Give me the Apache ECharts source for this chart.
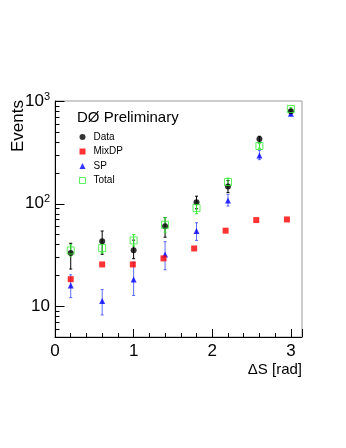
<!DOCTYPE html>
<html>
<head>
<meta charset="utf-8">
<script src="https://cdn.jsdelivr.net/npm/echarts@6/dist/echarts.min.js"></script>
<style>
html,body{margin:0;padding:0;background:#fff;}
#chart{width:346px;height:448px;}
</style>
</head>
<body>
<div id="chart"></div>
<script>
//------------------- data --------------
var dataX   = [0.2, 0.6, 1.0, 1.4, 1.8, 2.2, 2.6, 3.0];
var dataY   = [33, 43, 35, 60, 103, 147, 425, 794];
var dataLo  = [23, 32, 29, 47, 89, 128, 395, 766];
var dataHi  = [41, 54, 44, 73, 118, 168, 453, 822];

var mixX    = [0.2, 0.6, 0.99, 1.38, 1.77, 2.17, 2.56, 2.95];
var mixY    = [18.3, 25.5, 25.5, 29.2, 36.5, 54.4, 69, 70];

var spX     = [0.2, 0.6, 1.0, 1.4, 1.8, 2.2, 2.6, 3.0];
var spY     = [15.9, 11.2, 18.2, 31.9, 54, 107, 295, 753];
var spLo    = [12.1, 8.2, 12.7, 22.6, 43.7, 94.6, 268, 725];
var spHi    = [20.2, 14.5, 26.8, 42.5, 65, 123, 330, 781];

var totX    = [0.2, 0.6, 1.0, 1.4, 1.8, 2.2, 2.6, 3.0];
var totY    = [34.9, 36.8, 43.7, 62.2, 90.3, 162, 364, 836];
var totLo   = [30.8, 33, 38.5, 52.7, 79.6, 148, 346, 810];
var totHi   = [39.7, 41, 50, 72.8, 102, 177, 384, 862];

var yMajor  = [10, 100, 1000];
var yMinor  = [6, 7, 8, 9, 20, 30, 40, 50, 60, 70, 80, 90, 200, 300, 400, 500, 600, 700, 800, 900];

//------------------- helpers --------------
function pts(xs, ys){
  var out = [];
  for (var i = 0; i < xs.length; i++) out.push([xs[i], ys[i]]);
  return out;
}
function bars(xs, lo, hi){
  var out = [];
  for (var i = 0; i < xs.length; i++) out.push([xs[i], lo[i], hi[i]]);
  return out;
}
function errSeries(d, color){
  return {
    type: 'custom',
    silent: true,
    z: 2,
    data: d,
    encode: {x: 0, y: [1, 2]},
    renderItem: function(params, api){
      var a = api.coord([api.value(0), api.value(1)]);
      var b = api.coord([api.value(0), api.value(2)]);
      var st = {stroke: color, lineWidth: 1};
      return {
        type: 'group',
        children: [
          {type: 'line', shape: {x1: a[0], y1: a[1], x2: b[0], y2: b[1]}, style: st},
          {type: 'line', shape: {x1: a[0]-1.5, y1: a[1], x2: a[0]+1.5, y2: a[1]}, style: st},
          {type: 'line', shape: {x1: b[0]-1.5, y1: b[1], x2: b[0]+1.5, y2: b[1]}, style: st}
        ]
      };
    }
  };
}
// y ticks of the log axis, placed through the axis scale
function tickSeries(vals, len){
  var d = [];
  for (var i = 0; i < vals.length; i++) d.push([0, vals[i]]);
  return {
    type: 'custom',
    silent: true,
    z: 6,
    data: d,
    encode: {x: 0, y: 1},
    renderItem: function(params, api){
      var p = api.coord([api.value(0), api.value(1)]);
      var x0 = Math.round(p[0]) + 0.5, y0 = Math.round(p[1]) + 0.5;
      return {type: 'line', shape: {x1: x0, y1: y0, x2: x0 + len, y2: y0},
              style: {stroke: '#000', lineWidth: 1}};
    }
  };
}
var font = 'Liberation Sans';

//------------------- option --------------
var option = {
  animation: false,
  backgroundColor: '#fff',
  title: {
    text: 'DØ Preliminary',
    left: 77, top: 110,
    padding: 0,
    textStyle: {fontFamily: font, fontSize: 15, fontWeight: 'normal', color: '#000'}
  },
  graphic: [{
    type: 'text',
    x: 18, y: 100,
    rotation: Math.PI / 2,
    style: {text: 'Events', fontFamily: font, fontSize: 17, fill: '#000', align: 'right', verticalAlign: 'middle'}
  }],
  legend: {
    orient: 'vertical',
    left: 79, top: 131,
    padding: 0,
    itemWidth: 6, itemHeight: 6,
    itemGap: 2.5,
    textStyle: {fontFamily: font, fontSize: 10, color: '#000', lineHeight: 12, padding: [0, 0, 0, 3]},
    data: [
      {name: 'Data', icon: 'circle'},
      {name: 'MixDP', icon: 'rect'},
      {name: 'SP', icon: 'triangle'},
      {name: 'Total', icon: 'rect', itemStyle: {color: '#fff', borderColor: '#33ee33', borderWidth: 1}}
    ]
  },
  grid: {
    left: 55, right: 44, top: 101, bottom: 111,
    show: true, borderColor: '#9a9a9a', borderWidth: 1
  },
  xAxis: {
    type: 'value',
    min: 0, max: Math.PI, interval: 1,
    name: 'ΔS [rad]',
    nameLocation: 'end',
    nameGap: 0,
    nameTextStyle: {fontFamily: font, fontSize: 15, color: '#000', align: 'right', verticalAlign: 'top', padding: [25, 0, 0, 0]},
    axisLine: {onZero: false, lineStyle: {color: '#000', width: 1}},
    axisTick: {inside: true, length: 8, lineStyle: {color: '#000'}},
    minorTick: {show: true, splitNumber: 5, length: 4, lineStyle: {color: '#000'}},
    axisLabel: {fontFamily: font, fontSize: 17, color: '#000', margin: 6, showMaxLabel: false},
    splitLine: {show: false}
  },
  yAxis: {
    type: 'log',
    logBase: 10,
    min: 5, max: 1000,
    axisLine: {lineStyle: {color: '#000', width: 1}},
    axisTick: {show: false},
    axisLabel: {
      margin: 5,
      showMinLabel: false,
      formatter: function(v){
        var e = Math.log(v) / Math.LN10;
        if (Math.abs(e - Math.round(e)) > 1e-6) return '';
        e = Math.round(e);
        if (e === 1) return '{b|10}';
        return '{b|10}{s|' + e + '}';
      },
      rich: {
        b: {fontFamily: font, fontSize: 17, color: '#000'},
        s: {fontFamily: font, fontSize: 11, color: '#000', verticalAlign: 'top', padding: [0, 0, 9, 0]}
      }
    },
    splitLine: {show: false}
  },
  series: [
    tickSeries(yMajor, 9),
    tickSeries(yMinor, 4),
    errSeries(bars(spX, spLo, spHi), 'rgba(40,60,255,0.75)'),
    errSeries(bars(dataX, dataLo, dataHi), '#000'),
    errSeries(bars(totX, totLo, totHi), '#33ee33'),
    {
      name: 'SP', type: 'scatter', symbol: 'triangle', symbolSize: 6,
      itemStyle: {color: '#0000ff'}, data: pts(spX, spY), z: 3
    },
    {
      name: 'MixDP', type: 'scatter', symbol: 'rect', symbolSize: 6,
      itemStyle: {color: '#ff0000'}, data: pts(mixX, mixY), z: 3
    },
    {
      name: 'Data', type: 'scatter', symbol: 'circle', symbolSize: 6,
      itemStyle: {color: '#000'}, data: pts(dataX, dataY), z: 4
    },
    {
      name: 'Total', type: 'scatter', symbol: 'rect', symbolSize: 7,
      itemStyle: {color: 'none', borderColor: '#33ee33', borderWidth: 1}, data: pts(totX, totY), z: 5
    }
  ]
};

var chart = echarts.init(document.getElementById('chart'), null, {renderer: 'canvas'});
chart.setOption(option);
</script>
</body>
</html>
